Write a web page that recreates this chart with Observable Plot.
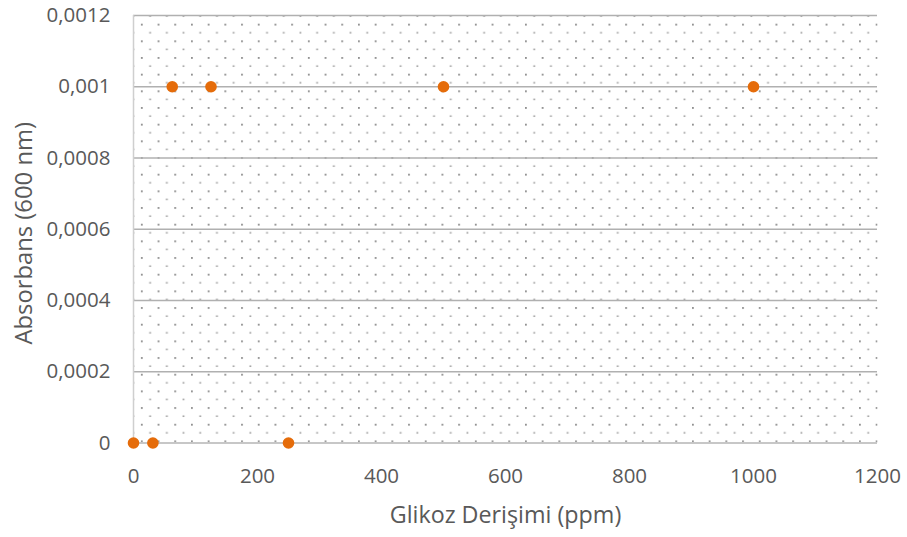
<!DOCTYPE html>
<html>
<head>
<meta charset="utf-8">
<script src="https://cdn.jsdelivr.net/npm/d3@7"></script>
<script src="https://cdn.jsdelivr.net/npm/@observablehq/plot@0.6"></script>
<style>
  html, body { margin: 0; padding: 0; background: #fff; }
  #chart { width: 907px; height: 537px; }
</style>
</head>
<body>
<div id="chart"></div>
<script>
const concentration = [0, 31.25, 62.5, 125, 250, 500, 1000];
const absorbance = [0, 0, 0.001, 0.001, 0, 0.001, 0.001];
const xTicks = [0, 200, 400, 600, 800, 1000, 1200];
const yTicks = [0, 0.0002, 0.0004, 0.0006, 0.0008, 0.001, 0.0012];
const yTickLabels = ["0", "0,0002", "0,0004", "0,0006", "0,0008", "0,001", "0,0012"];

const data = concentration.map((c, i) => ({x: c, y: absorbance[i]}));
const font = "'Open Sans', 'Liberation Sans', sans-serif";

const plot = Plot.plot({
  width: 907,
  height: 537,
  marginLeft: 133,
  marginRight: 30,
  marginTop: 15,
  marginBottom: 94.5,
  style: {fontFamily: font, fontSize: "20.5px", color: "#595959", background: "#fff"},
  x: {domain: [0, 1200], ticks: xTicks, label: null},
  y: {domain: [0, 0.0012], ticks: yTicks, label: null},
  marks: [
    Plot.frame({fill: "url(#dotPattern)", stroke: null}),
    Plot.gridY(yTicks, {stroke: "#b0b0b0", strokeOpacity: 1, strokeWidth: 1.6}),
    Plot.ruleX([0], {stroke: "#cfcfcf", strokeWidth: 1.5}),
    Plot.ruleY([0], {stroke: "#c8c8c8", strokeWidth: 1.6}),
    Plot.axisX(xTicks, {tickSize: 0, tickPadding: 25, fontSize: 20.5, fill: "#595959",
      tickFormat: (d) => String(d)}),
    Plot.axisY(yTicks, {tickSize: 0, tickPadding: 23, fontSize: 20.5, fill: "#595959",
      tickFormat: (d) => yTickLabels[yTicks.indexOf(d)]}),
    Plot.text(["Glikoz Derişimi (ppm)"], {frameAnchor: "bottom", textAnchor: "middle", dy: 73, fontSize: 23.3, fill: "#595959", lineAnchor: "middle"}),
    Plot.text(["Absorbans (600 nm)"], {frameAnchor: "left", textAnchor: "middle", dx: -109, dy: 4, rotate: -90, fontSize: 23.8, fill: "#595959", lineAnchor: "middle"}),
    Plot.dot(data, {x: "x", y: "y", r: 5.8, fill: "#e56c0a", stroke: null})
  ]
});

// dotted pattern definition for the plot background
const ns = "http://www.w3.org/2000/svg";
const defs = document.createElementNS(ns, "defs");
const pat = document.createElementNS(ns, "pattern");
pat.setAttribute("id", "dotPattern");
pat.setAttribute("patternUnits", "userSpaceOnUse");
pat.setAttribute("x", "140.4");
pat.setAttribute("y", "23.2");
pat.setAttribute("width", "16.7");
pat.setAttribute("height", "16.67");
[[0, 0, 1.8, 1.8, "#8c8c8c"], [8.35, 8.33, 1.8, 1.5, "#9a9a9a"]].forEach(([x, y, w, h, c]) => {
  const r = document.createElementNS(ns, "rect");
  r.setAttribute("x", x);
  r.setAttribute("y", y);
  r.setAttribute("width", w);
  r.setAttribute("height", h);
  r.setAttribute("fill", c);
  pat.appendChild(r);
});
defs.appendChild(pat);
plot.insertBefore(defs, plot.firstChild);

document.getElementById("chart").appendChild(plot);
</script>
</body>
</html>
